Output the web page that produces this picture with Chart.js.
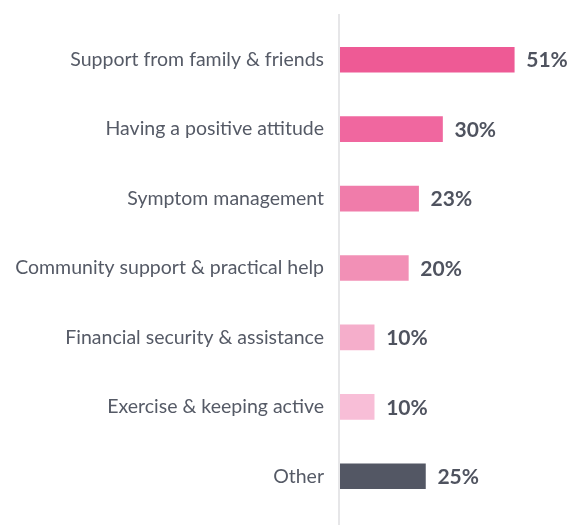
<!DOCTYPE html>
<html>
<head>
<meta charset="utf-8">
<script src="https://cdn.jsdelivr.net/npm/chart.js@4.4.1/dist/chart.umd.min.js"></script>
<style>
html,body{margin:0;padding:0;background:#fff;}
#wrap{width:572px;height:525px;}
</style>
</head>
<body>
<div id="wrap"><canvas id="c" width="572" height="525"></canvas></div>
<script>
const categories = [
  "Support from family & friends",
  "Having a positive attitude",
  "Symptom management",
  "Community support & practical help",
  "Financial security & assistance",
  "Exercise & keeping active",
  "Other"
];
const values = [51, 30, 23, 20, 10, 10, 25];
const valueLabels = ["51%", "30%", "23%", "20%", "10%", "10%", "25%"];
const barColors = ["#ee5a95", "#f0679f", "#f07caa", "#f290b6", "#f5aecb", "#f8bed7", "#535764"];

const valueLabelPlugin = {
  id: 'valueLabels',
  beforeDatasetsDraw(chart) {
    const ctx = chart.ctx;
    const xs = chart.scales.x;
    const x0 = xs.getPixelForValue(0);
    ctx.save();
    ctx.strokeStyle = '#e6e6e8';
    ctx.lineWidth = 2;
    ctx.beginPath();
    ctx.moveTo(x0 - 1, 14);
    ctx.lineTo(x0 - 1, chart.height);
    ctx.stroke();
    ctx.restore();
  },
  afterDatasetsDraw(chart) {
    const ctx = chart.ctx;
    const meta = chart.getDatasetMeta(0);
    ctx.save();
    ctx.font = 'bold 21px Lato, "Open Sans", sans-serif';
    ctx.fillStyle = '#4f535f';
    ctx.textAlign = 'left';
    ctx.textBaseline = 'middle';
    meta.data.forEach((bar, i) => {
      ctx.fillText(valueLabels[i], bar.x + 12, bar.y + 1);
    });
    ctx.restore();
  }
};

new Chart(document.getElementById('c'), {
  type: 'bar',
  data: {
    labels: categories,
    datasets: [{
      data: values,
      backgroundColor: barColors,
      barThickness: 25,
      borderWidth: 0
    }]
  },
  options: {
    indexAxis: 'y',
    responsive: false,
    devicePixelRatio: 1,
    animation: false,
    layout: { padding: { top: 25, bottom: 14, left: 0, right: 27 } },
    plugins: { legend: { display: false }, tooltip: { enabled: false } },
    scales: {
      x: {
        display: false,
        min: 0,
        max: 60
      },
      y: {
        afterFit(scale) { scale.width = 340; scale.paddingTop = 0; scale.paddingBottom = 0; },
        grid: { display: false, drawTicks: false },
        border: { display: false },
        ticks: {
          padding: 16,
          color: '#555a66',
          font: { family: 'Lato, "Open Sans", sans-serif', size: 19.5 }
        }
      }
    }
  },
  plugins: [valueLabelPlugin]
});
</script>
</body>
</html>
